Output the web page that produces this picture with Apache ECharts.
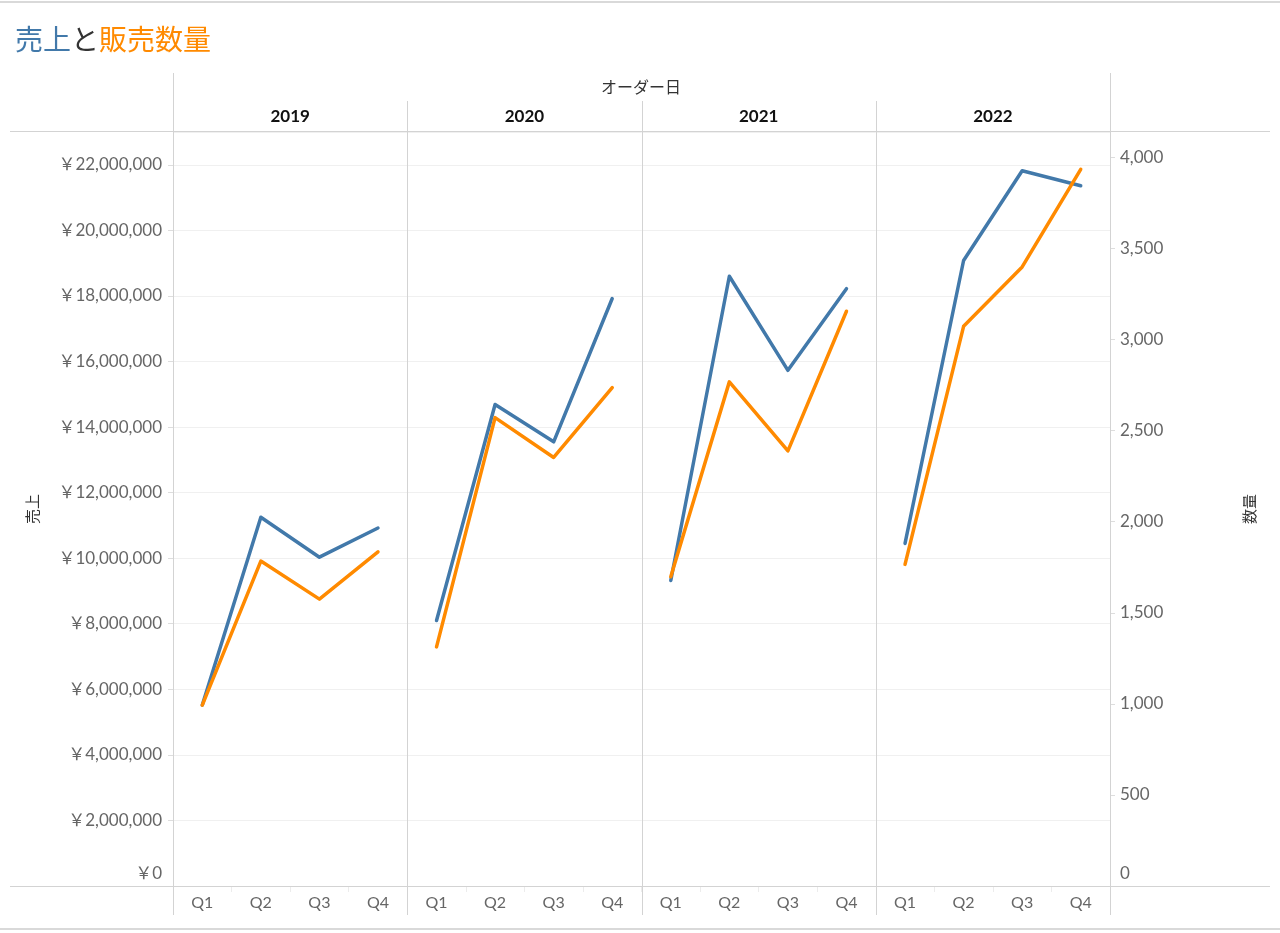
<!DOCTYPE html>
<html>
<head>
<meta charset="utf-8">
<script src="https://cdn.jsdelivr.net/npm/echarts@6/dist/echarts.min.js"></script>
<style>
html,body{margin:0;padding:0;background:#fff;}
#chart{width:1280px;height:933px;}
</style>
</head>
<body>
<div id="chart"></div>
<script>
// ---- data ----
const years = ['2019', '2020', '2021', '2022'];
const quarters = ['Q1', 'Q2', 'Q3', 'Q4'];
const sales2019 = [5520000, 11250000, 10030000, 10920000];
const sales2020 = [8100000, 14690000, 13550000, 17920000];
const sales2021 = [9320000, 18600000, 15730000, 18220000];
const sales2022 = [10450000, 19080000, 21820000, 21360000];
const qty2019 = [993, 1784, 1575, 1835];
const qty2020 = [1313, 2572, 2353, 2737];
const qty2021 = [1698, 2768, 2389, 3156];
const qty2022 = [1766, 3073, 3399, 3935];
const salesTicks = { min: 0, max: 23000000, interval: 2000000 };
const qtyTicks = { min: 0, max: 4140, interval: 500 };

const salesByYear = [sales2019, sales2020, sales2021, sales2022];
const qtyByYear = [qty2019, qty2020, qty2021, qty2022];

const BLUE = '#4279aa';
const ORANGE = '#ff8a00';
const LINE = '#d3d3d3';
const LABEL = '#666666';
const FONT = 'Lato, "Noto Sans CJK JP", sans-serif';

const plotLeft = 173, plotRight = 1110, plotTop = 132, plotBottom = 886;
const panelW = (plotRight - plotLeft) / years.length;

const grids = [], xAxes = [], yAxes = [], series = [];
years.forEach((y, i) => {
  grids.push({
    left: plotLeft + panelW * i, width: panelW,
    top: plotTop, height: plotBottom - plotTop,
    containLabel: false
  });
  xAxes.push({
    type: 'category', gridIndex: i, data: quarters, boundaryGap: true,
    axisLine: { show: false },
    axisTick: { show: true, length: 6, lineStyle: { color: '#ececec' } },
    axisLabel: { color: LABEL, fontSize: 16, fontFamily: FONT, margin: 9 }
  });
  // sales axis (left)
  yAxes.push({
    type: 'value', gridIndex: i, position: 'left',
    min: salesTicks.min, max: salesTicks.max, interval: salesTicks.interval,
    name: i === 0 ? '売上' : '',
    nameLocation: 'middle', nameRotate: 90, nameGap: 132,
    nameTextStyle: { color: '#333', fontSize: 15, fontFamily: FONT },
    axisLine: { show: false },
    axisTick: { show: i === 0, length: 5, lineStyle: { color: '#dddddd' } },
    axisLabel: {
      show: i === 0, showMaxLabel: false, color: LABEL, fontSize: 17, fontFamily: FONT, margin: 11,
      formatter: v => {
        if (v % salesTicks.interval !== 0) return '';
        if (v === 0) return '{z|￥0}';
        return '￥' + v.toLocaleString('en-US');
      },
      rich: { z: { color: LABEL, fontSize: 17, fontFamily: FONT, padding: [0, 0, 24, 0] } }
    },
    splitLine: { show: true, lineStyle: { color: '#f0f0f0', width: 1 } }
  });
  // quantity axis (right)
  yAxes.push({
    type: 'value', gridIndex: i, position: 'right',
    min: qtyTicks.min, max: qtyTicks.max, interval: qtyTicks.interval,
    name: i === 3 ? '数量' : '',
    nameLocation: 'middle', nameRotate: 90, nameGap: 133,
    nameTextStyle: { color: '#333', fontSize: 15, fontFamily: FONT },
    axisLine: { show: false },
    axisTick: { show: i === 3, length: 5, lineStyle: { color: '#dddddd' } },
    axisLabel: {
      show: i === 3, showMaxLabel: false, color: LABEL, fontSize: 17, fontFamily: FONT, margin: 10,
      formatter: v => {
        if (v % qtyTicks.interval !== 0) return '';
        if (v === 0) return '{z|0}';
        return v.toLocaleString('en-US');
      },
      rich: { z: { color: LABEL, fontSize: 17, fontFamily: FONT, padding: [0, 0, 24, 0] } }
    },
    splitLine: { show: false }
  });
  series.push({
    name: '売上', type: 'line', xAxisIndex: i, yAxisIndex: 2 * i,
    data: salesByYear[i], showSymbol: false, symbol: 'none',
    lineStyle: { color: BLUE, width: 3.5, cap: 'round', join: 'round' },
    itemStyle: { color: BLUE }, z: 3
  });
  series.push({
    name: '数量', type: 'line', xAxisIndex: i, yAxisIndex: 2 * i + 1,
    data: qtyByYear[i], showSymbol: false, symbol: 'none',
    lineStyle: { color: ORANGE, width: 3.5, cap: 'round', join: 'round' },
    itemStyle: { color: ORANGE }, z: 4
  });
});

// frame / header decorations
const g = [];
const ln = (x1, y1, x2, y2, color, w) => g.push({
  type: 'line', silent: true, z: 1,
  shape: { x1, y1, x2, y2 }, style: { stroke: color || LINE, lineWidth: w || 1 }
});
ln(0, 2, 1280, 2, '#d9d9d9', 2);
ln(0, 929, 1280, 929, '#d9d9d9', 2);
ln(10, plotTop - 0.5, 1270, plotTop - 0.5);
ln(10, plotBottom + 0.5, 1270, plotBottom + 0.5);
ln(plotLeft + 0.5, 73, plotLeft + 0.5, 915);
ln(plotRight + 0.5, 73, plotRight + 0.5, 915);
for (let i = 1; i < years.length; i++) {
  const x = Math.round(plotLeft + panelW * i) + 0.5;
  ln(x, 101, x, 915);
}
g.push({
  type: 'text', silent: true, x: 641, y: 88,
  style: { text: 'オーダー日', fill: '#333', font: '16px ' + FONT, align: 'center', verticalAlign: 'middle' }
});
years.forEach((y, i) => {
  g.push({
    type: 'text', silent: true,
    x: plotLeft + panelW * (i + 0.5), y: 117,
    style: { text: y, fill: '#111', font: 'bold 17px ' + FONT, align: 'center', verticalAlign: 'middle' }
  });
});

const option = {
  backgroundColor: '#ffffff',
  animation: false,
  title: {
    left: 10, top: 22,
    text: '{a|売上}{b|と}{c|販売数量}',
    textStyle: {
      fontSize: 28, fontFamily: FONT, fontWeight: 'normal',
      rich: {
        a: { color: BLUE, fontSize: 28, fontFamily: FONT, fontWeight: 'normal' },
        b: { color: '#333333', fontSize: 28, fontFamily: FONT, fontWeight: 'normal' },
        c: { color: ORANGE, fontSize: 28, fontFamily: FONT, fontWeight: 'normal' }
      }
    }
  },
  grid: grids,
  xAxis: xAxes,
  yAxis: yAxes,
  series: series,
  graphic: g
};

const chart = echarts.init(document.getElementById('chart'));
chart.setOption(option);
</script>
</body>
</html>
